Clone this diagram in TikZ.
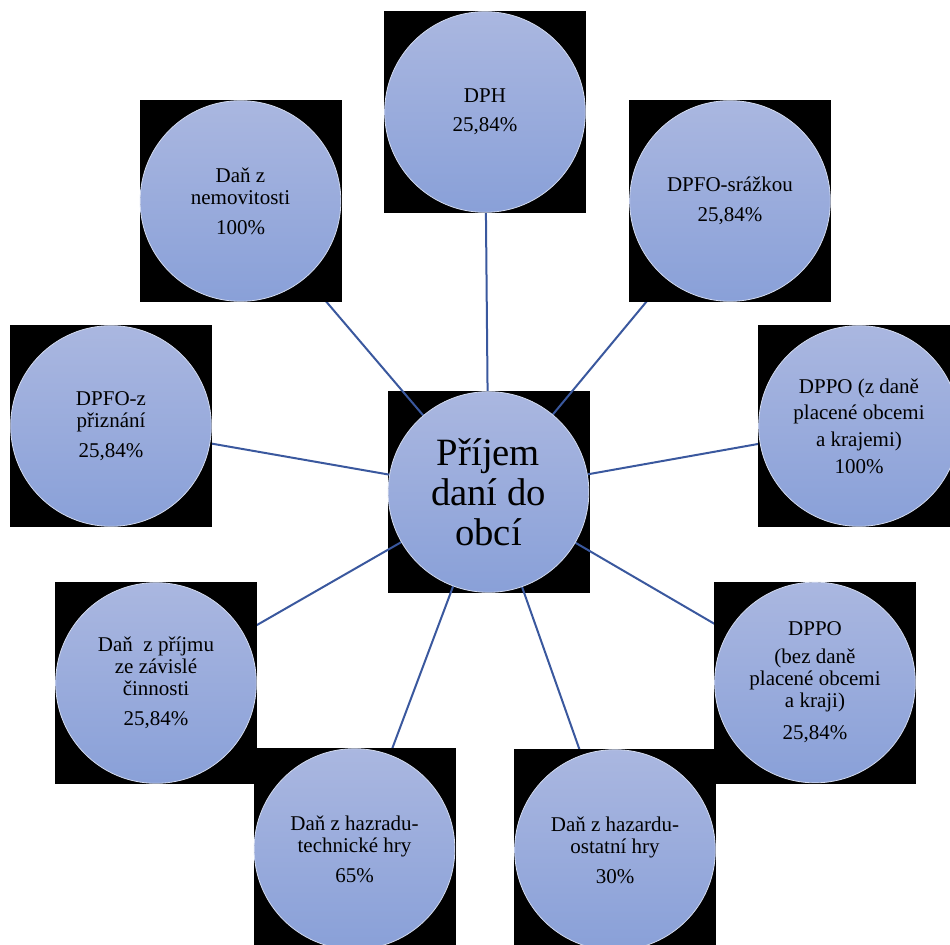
\documentclass[tikz,border=0pt]{standalone}
\usepackage{fontspec}
\setmainfont{Liberation Serif}
\newfontfamily\tnr{Liberation Serif}
\pgfdeclarelayer{back}
\pgfdeclarelayer{lines}
\pgfsetlayers{back,lines,main}
\definecolor{cTop}{RGB}{170,183,224}
\definecolor{cBot}{RGB}{137,160,216}
\definecolor{cRim}{RGB}{210,218,238}
\definecolor{cLine}{RGB}{58,88,158}
\tikzset{
  sqbox/.style={rectangle, fill=black, minimum size=151.5pt, inner sep=0pt},
  leaf/.style={circle, minimum size=150.5pt, inner sep=0pt, top color=cTop, bottom color=cBot,
    draw=cRim, line width=0.6pt, align=center, text=black,
    font=\tnr\fontsize{15.75}{16.5}\selectfont},
  hub/.style={leaf, font=\tnr\fontsize{29}{30}\selectfont},
  conn/.style={draw=cLine, line width=1.5pt}
}
\begin{document}
\begin{tikzpicture}[x=0.75pt,y=-0.75pt]
\useasboundingbox (0,0) rectangle (950,945);
\begin{scope}
\clip (0,0) rectangle (950,945);
% center square on bottom layer
\begin{pgfonlayer}{back}
\node[sqbox] (sqC) at (488.5,492) {};
\end{pgfonlayer}
% outer squares
\node[sqbox] (sqDPH) at (485,112) {};
\node[sqbox] (sqNem) at (240.5,201) {};
\node[sqbox] (sqSraz) at (730,201) {};
\node[sqbox] (sqPriz) at (111,426) {};
\node[sqbox] (sqDPPOz) at (859,426) {};
\node[sqbox] (sqZav) at (156,683) {};
\node[sqbox] (sqDPPObez) at (815,682.5) {};
\node[sqbox] (sqTech) at (354.5,849) {};
\node[sqbox] (sqOst) at (615,850) {};
% circles
\node[leaf] (DPH) at (485,112) {DPH\\[5pt]25,84\%};
\node[leaf] (Nem) at (240.5,201) {Daň z\\nemovitosti\\[6pt]100\%};
\node[leaf] (Sraz) at (730,201) {DPFO-srážkou\\[6pt]25,84\%};
\node[leaf] (Priz) at (111,426) {DPFO-z\\přiznání\\[6pt]25,84\%};
\node[leaf] (DPPOz) at (859,426) {DPPO (z daně\\[3.5pt]placené obcemi\\[3.5pt]a krajemi)\\[3.5pt]100\%};
\node[leaf] (Zav) at (156,683) {Daň \ z příjmu\\ze závislé\\činnosti\\[6pt]25,84\%};
\node[leaf] (DPPObez) at (815,682.5) {DPPO\\[4pt](bez daně\\placené obcemi\\a kraji)\\[8pt]25,84\%};
\node[leaf] (Tech) at (354.5,849) {Daň z hazradu-\\technické hry\\[6pt]65\%};
\node[leaf] (Ost) at (615,850) {Daň z hazardu-\\ostatní hry\\[6pt]30\%};
\node[hub] (C) at (488.5,492) {Příjem\\daní do\\obcí};
\end{scope}
% connectors under the outer squares
\begin{pgfonlayer}{lines}
\foreach \t in {DPH,Nem,Sraz,Priz,DPPOz,Zav,DPPObez,Tech,Ost}
  \draw[conn] (C) -- (\t);
\end{pgfonlayer}
\end{tikzpicture}
\end{document}
